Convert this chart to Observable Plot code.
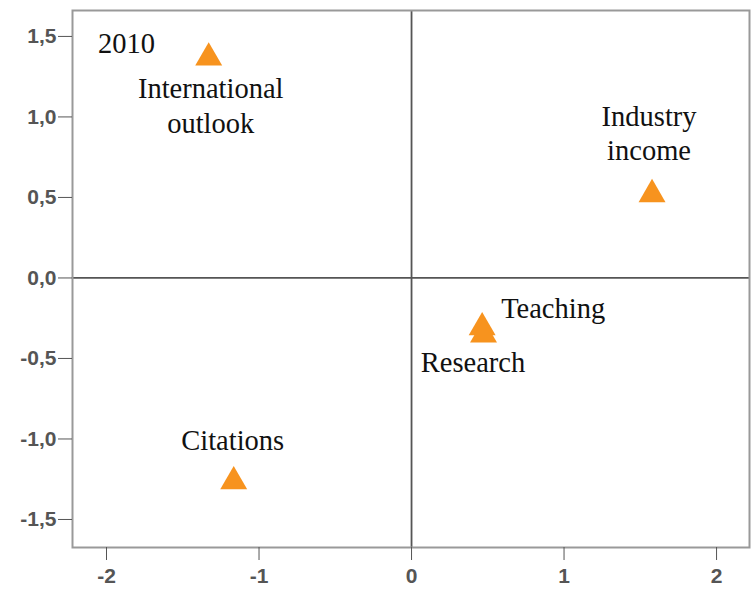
<!DOCTYPE html>
<html>
<head>
<meta charset="utf-8">
<script src="https://cdn.jsdelivr.net/npm/d3@7"></script>
<script src="https://cdn.jsdelivr.net/npm/@observablehq/plot@0.6"></script>
<style>
  html, body { margin: 0; padding: 0; background: #fff; }
</style>
</head>
<body>
<div id="chart"></div>
<script>
// Data
const names = ["International\noutlook", "Industry\nincome", "Teaching", "Research", "Citations"];
const dim1 = [-1.33, 1.577, 0.463, 0.472, -1.166];
const dim2 = [1.368, 0.519, -0.308, -0.353, -1.264];
const xTicks = [-2, -1, 0, 1, 2];
const yTicks = [-1.5, -1.0, -0.5, 0.0, 0.5, 1.0, 1.5];
const yearLabel = "2010";

const points = names.map((n, i) => ({name: n, x: dim1[i], y: dim2[i]}));

// label placement (pixel offsets from each point)
const labelStyle = {
  "International\noutlook": {dx: 2, dy: 47, textAnchor: "middle"},
  "Industry\nincome": {dx: -3, dy: -62.5, textAnchor: "middle"},
  "Teaching": {dx: 19, dy: -21, textAnchor: "start"},
  "Research": {dx: -10.5, dy: 26, textAnchor: "middle"},
  "Citations": {dx: -1, dy: -43, textAnchor: "middle"}
};

const serif = "'Liberation Serif', 'Times New Roman', serif";
const labelMarks = names.map(n => Plot.text(points.filter(p => p.name === n), {
  x: "x", y: "y", text: "name",
  dx: labelStyle[n].dx, dy: labelStyle[n].dy,
  textAnchor: labelStyle[n].textAnchor,
  lineAnchor: "middle", lineHeight: 1.22,
  fontFamily: serif, fontSize: 28.5, fill: "#111"
}));

const chart = Plot.plot({
  width: 751,
  height: 592,
  marginLeft: 72,
  marginRight: 2,
  marginTop: 10,
  marginBottom: 45,
  style: {fontFamily: "'Liberation Sans', Arial, sans-serif", background: "#fff"},
  x: {domain: [-2.223, 2.216]},
  y: {domain: [-1.674, 1.661]},
  marks: [
    Plot.ruleX([0], {stroke: "#555", strokeWidth: 1.8}),
    Plot.ruleY([0], {stroke: "#555", strokeWidth: 1.8}),
    Plot.frame({stroke: "#999", strokeWidth: 2}),
    Plot.axisX({ticks: xTicks, tickFormat: d => String(d), tickSize: 13, tickPadding: 8,
      fontSize: 21, fontWeight: "bold", color: "#555", label: null}),
    Plot.axisY({ticks: yTicks, tickFormat: d => d.toFixed(1).replace(".", ","), tickSize: 14, tickPadding: 2,
      fontSize: 21, fontWeight: "bold", color: "#555", label: null}),
    Plot.dot(points, {x: "x", y: "y", symbol: "triangle", r: 10, fill: "#F7931E", stroke: "none"}),
    ...labelMarks,
    Plot.text([yearLabel], {frameAnchor: "top-left", text: d => d, dx: 25.5, dy: 22,
      textAnchor: "start", lineAnchor: "top", fontFamily: serif, fontSize: 28.5, fill: "#111"})
  ]
});
document.getElementById("chart").appendChild(chart);
</script>
</body>
</html>
